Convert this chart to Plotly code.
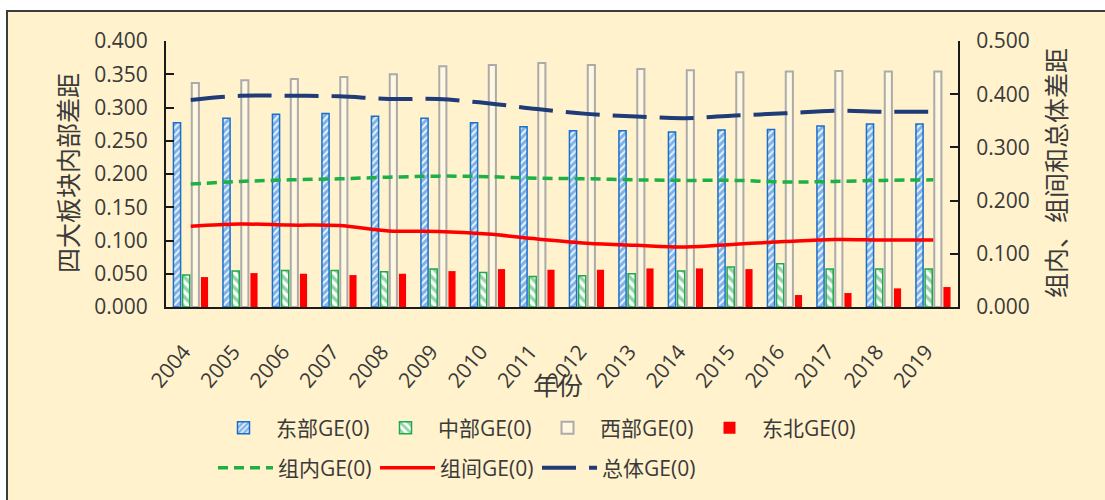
import plotly.graph_objects as go

years = ["2004", "2005", "2006", "2007", "2008", "2009", "2010", "2011",
         "2012", "2013", "2014", "2015", "2016", "2017", "2018", "2019"]

east = [0.277, 0.284, 0.290, 0.291, 0.287, 0.284, 0.277, 0.271,
        0.265, 0.265, 0.263, 0.266, 0.267, 0.272, 0.275, 0.275]
central = [0.048, 0.054, 0.055, 0.055, 0.053, 0.057, 0.052, 0.046,
           0.047, 0.050, 0.054, 0.060, 0.065, 0.057, 0.057, 0.057]
west = [0.337, 0.341, 0.343, 0.346, 0.350, 0.362, 0.364, 0.367,
        0.364, 0.358, 0.356, 0.353, 0.354, 0.355, 0.354, 0.354]
northeast = [0.045, 0.051, 0.050, 0.048, 0.050, 0.054, 0.057, 0.056,
             0.056, 0.058, 0.058, 0.057, 0.018, 0.021, 0.028, 0.030]

within = [0.231, 0.236, 0.239, 0.241, 0.244, 0.246, 0.245, 0.242,
          0.241, 0.239, 0.238, 0.238, 0.235, 0.236, 0.238, 0.239]
between = [0.152, 0.156, 0.154, 0.153, 0.143, 0.142, 0.137, 0.128,
           0.120, 0.116, 0.113, 0.118, 0.123, 0.127, 0.126, 0.126]
total = [0.389, 0.397, 0.397, 0.396, 0.391, 0.391, 0.383, 0.372,
         0.363, 0.358, 0.355, 0.360, 0.364, 0.369, 0.367, 0.367]

FONT = "Open Sans, Noto Sans CJK SC, sans-serif"
TXT = "#3a3a3a"
BG = "#FFF2CC"

fig = go.Figure()

fig.add_trace(go.Bar(
    x=years, y=east, name="东部GE(0)",
    marker=dict(color="white", line=dict(color="#1A6FCC", width=1.5),
                pattern=dict(shape="/", fgcolor="#1A6FCC", bgcolor="#EAF4FF",
                             size=5, solidity=0.62)),
    legend="legend"))
fig.add_trace(go.Bar(
    x=years, y=central, name="中部GE(0)",
    marker=dict(color="white", line=dict(color="#1FA84C", width=1.5),
                pattern=dict(shape="\\", fgcolor="#1FA84C", bgcolor="white",
                             size=7, solidity=0.5)),
    legend="legend"))
fig.add_trace(go.Bar(
    x=years, y=west, name="西部GE(0)",
    marker=dict(color="rgba(255,250,235,0.6)", line=dict(color="#ABABAB", width=2)),
    legend="legend"))
fig.add_trace(go.Bar(
    x=years, y=northeast, name="东北GE(0)",
    marker=dict(color="#FF0000", line=dict(width=0)),
    legend="legend"))

fig.add_trace(go.Scatter(
    x=years, y=within, name="组内GE(0)", yaxis="y2", mode="lines",
    line=dict(color="#1DB045", width=3.5, dash="10px,6px", shape="spline"),
    legend="legend2"))
fig.add_trace(go.Scatter(
    x=years, y=between, name="组间GE(0)", yaxis="y2", mode="lines",
    line=dict(color="#FF0000", width=3.5, shape="spline"),
    legend="legend2"))
fig.add_trace(go.Scatter(
    x=years, y=total, name="总体GE(0)", yaxis="y2", mode="lines",
    line=dict(color="#1F3C78", width=4, dash="34px,13px", shape="spline"),
    legend="legend2"))

W, H = 1105, 500
L, R, T, B = 166, 147, 41, 193
pw, ph = W - L - R, H - T - B


def px_x(p):
    return (p - L) / pw


def px_y(p):
    return (H - B - p) / ph


legend_common = dict(orientation="h", xanchor="left", yanchor="middle",
                     entrywidth=92, entrywidthmode="pixels", itemwidth=55,
                     bgcolor="rgba(0,0,0,0)", font=dict(size=21, color=TXT),
                     traceorder="normal")

fig.update_layout(
    width=W, height=H,
    margin=dict(l=L, r=R, t=T, b=B, autoexpand=False),
    paper_bgcolor="white",
    plot_bgcolor="rgba(0,0,0,0)",
    font=dict(family=FONT, color=TXT, size=21),
    barmode="group", bargap=0.26, bargroupgap=0.22,
    showlegend=True,
    xaxis=dict(type="category", showline=True, linecolor="#1a1a1a", linewidth=2,
               ticks="", tickangle=-50, tickfont=dict(size=21, color=TXT),
               ticklabelstandoff=22, ticklabelshift=-7,
               showgrid=False, zeroline=False),
    yaxis=dict(range=[0, 0.4], dtick=0.05, tickformat=".3f", showline=True,
               linecolor="#1a1a1a", linewidth=2, ticks="inside", ticklen=8,
               tickwidth=2, tickcolor="#1a1a1a", showgrid=False, zeroline=False,
               ticklabelstandoff=12, tickfont=dict(size=21, color=TXT)),
    yaxis2=dict(range=[0, 0.5], dtick=0.1, tickformat=".3f", overlaying="y",
                side="right", showline=True, linecolor="#1a1a1a", linewidth=2,
                ticks="inside", ticklen=8, tickwidth=2, tickcolor="#1a1a1a",
                showgrid=False, zeroline=False, ticklabelstandoff=12,
                tickfont=dict(size=21, color=TXT)),
    legend=dict(x=px_x(211), y=px_y(428), **legend_common),
    legend2=dict(x=px_x(213), y=px_y(468), **legend_common),
    shapes=[dict(type="rect", xref="paper", yref="paper",
                 x0=px_x(7), x1=px_x(1115), y0=px_y(510), y1=px_y(11),
                 fillcolor=BG, line=dict(color="#3c3c3c", width=2),
                 layer="below")],
    annotations=[
        dict(text="四大板块内部差距", xref="paper", yref="paper",
             x=px_x(67), y=px_y(173), textangle=-90, showarrow=False,
             font=dict(size=25, color=TXT, family="Noto Sans CJK SC"),
             xanchor="center", yanchor="middle"),
        dict(text="组内、组间和总体差距", xref="paper", yref="paper",
             x=px_x(1055), y=px_y(173), textangle=-90, showarrow=False,
             font=dict(size=25, color=TXT, family="Noto Sans CJK SC"),
             xanchor="center", yanchor="middle"),
        dict(text="年份", xref="paper", yref="paper",
             x=px_x(558), y=px_y(384), showarrow=False,
             font=dict(size=25, color=TXT, family="Noto Sans CJK SC"),
             xanchor="center", yanchor="middle"),
    ],
)

fig.write_html("out.html")
